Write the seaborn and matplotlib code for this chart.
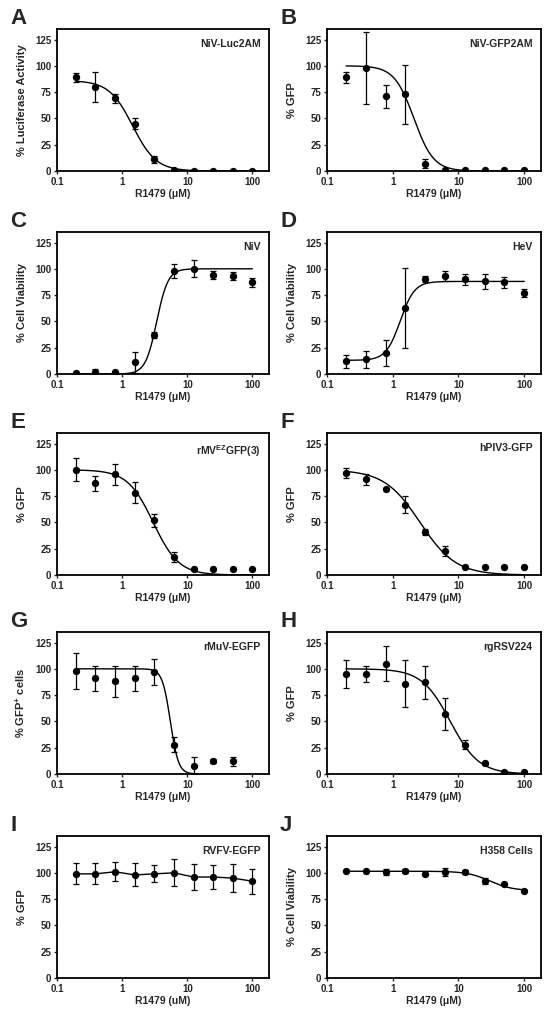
import numpy as np
import pandas as pd
import matplotlib
matplotlib.use('Agg')
import matplotlib.pyplot as plt
import seaborn as sns

# Концентрации R1479 (мкМ)
conc = [0.195, 0.39, 0.78, 1.5625, 3.125, 6.25, 12.5, 25, 50, 100]

# Значения по панелям (среднее и погрешность)
a_y = [89, 80, 69, 45, 11, 1, 0, 0, 0, 0]
a_err = [4, 14, 4, 5, 3, 0.5, 0, 0, 0, 0]
b_y = [89, 98, 71, 73, 7, 1, 1, 1, 1, 1]
b_err = [5, 34, 11, 28, 4, 0, 0, 0, 0, 0]
c_y = [1, 2, 1.5, 11, 37, 98, 100, 94, 93, 87]
c_err = [1, 3, 1, 10, 3, 7, 8, 4, 4, 4]
d_y = [12, 14, 20, 63, 90, 93, 90, 88, 87, 77]
d_err = [6, 8, 12, 38, 3, 5, 5, 7, 5, 4]
e_y = [100, 87, 96, 78, 52, 17, 6, 6, 6, 6]
e_err = [11, 7, 10, 10, 6, 5, 0, 0, 0, 0]
f_y = [97, 91, 82, 67, 41, 23, 8, 8, 8, 8]
f_err = [5, 5, 1, 8, 3, 5, 0, 0, 0, 0]
g_y = [98, 91, 88, 91, 97, 28, 8, 12, 12]
g_err = [17, 12, 15, 12, 12, 7, 8, 2, 4]
h_y = [95, 95, 105, 86, 87, 57, 28, 10, 2, 2]
h_err = [13, 8, 17, 22, 16, 15, 4, 1, 1, 1]
i_y = [99, 99, 101, 98, 99, 100, 96, 96, 95, 92]
i_err = [10, 10, 9, 11, 8, 13, 12, 11, 13, 12]
j_y = [102, 102, 101, 102, 99, 101, 101, 92, 89, 83]
j_err = [0.5, 0.5, 3, 2, 1, 4, 2, 3, 1, 1]

# Параметры 4PL-аппроксимации: низ, верх, EC50, наклон (None - соединить точки)
fits = {
    'A': (0, 86, 1.45, -2.4),
    'B': (0, 100, 2.1, -2.9),
    'C': (0, 100, 3.4, 5.0),
    'D': (13, 88, 1.3, 4.0),
    'E': (0, 100, 3.0, -2.2),
    'F': (0, 100, 2.6, -1.6),
    'G': (0, 100, 5.5, -7.0),
    'H': (0, 100, 7.5, -2.0),
    'I': None,
    'J': (83, 101.5, 30, -2.5),
}

panels = [
    ('A', a_y, a_err, '% Luciferase Activity', 'NiV-Luc2AM', 'R1479 (\u03bcM)'),
    ('B', b_y, b_err, '% GFP', 'NiV-GFP2AM', 'R1479 (\u03bcM)'),
    ('C', c_y, c_err, '% Cell Viability', 'NiV', 'R1479 (\u03bcM)'),
    ('D', d_y, d_err, '% Cell Viability', 'HeV', 'R1479 (\u03bcM)'),
    ('E', e_y, e_err, '% GFP', 'rMV$^{\\mathbf{EZ}}$GFP(3)', 'R1479 (\u03bcM)'),
    ('F', f_y, f_err, '% GFP', 'hPIV3-GFP', 'R1479 (\u03bcM)'),
    ('G', g_y, g_err, '% GFP$^{\\mathbf{+}}$ cells', 'rMuV-EGFP', 'R1479 (\u03bcM)'),
    ('H', h_y, h_err, '% GFP', 'rgRSV224', 'R1479 (\u03bcM)'),
    ('I', i_y, i_err, '% GFP', 'RVFV-EGFP', 'R1479 (uM)'),
    ('J', j_y, j_err, '% Cell Viability', 'H358 Cells', 'R1479 (\u03bcM)'),
]

sns.set_style('ticks')
plt.rcParams['font.family'] = ['Liberation Sans', 'DejaVu Sans']
plt.rcParams['font.weight'] = 'bold'
plt.rcParams['mathtext.fontset'] = 'custom'
plt.rcParams['mathtext.rm'] = 'Liberation Sans:bold'
plt.rcParams['mathtext.bf'] = 'Liberation Sans:bold'
plt.rcParams['mathtext.default'] = 'bf'

W, H = 551, 1016
fig = plt.figure(figsize=(W / 100, H / 100), dpi=100)

col_left = [57, 327]
col_width = [212, 214]
row_top = [29, 232, 433, 632, 836]
ax_h = 142

for k, (letter, y, err, ylabel, name, xlabel) in enumerate(panels):
    row, col = divmod(k, 2)
    left = col_left[col]
    top = row_top[row]
    ax = fig.add_axes([left / W, 1 - (top + ax_h) / H, col_width[col] / W, ax_h / H])

    x = conc[:len(y)]
    df = pd.DataFrame({'x': x, 'y': y, 'err': err})

    fit = fits[letter]
    if fit is None:
        sns.lineplot(data=df, x='x', y='y', color='black', lw=1.0, ax=ax)
    else:
        bottom, topv, ec50, hill = fit
        xs = np.logspace(np.log10(x[0]), np.log10(x[-1]), 300)
        ys = bottom + (topv - bottom) / (1 + (ec50 / xs) ** hill)
        sns.lineplot(x=xs, y=ys, color='black', lw=1.0, ax=ax)

    ax.errorbar(df['x'], df['y'], yerr=df['err'], fmt='none', ecolor='black',
                elinewidth=0.9, capsize=2.5, capthick=0.9, zorder=3)
    sns.scatterplot(data=df, x='x', y='y', color='black', s=28, edgecolor='black',
                    linewidth=0, zorder=4, ax=ax)

    ax.set_xscale('log')
    ax.set_xlim(0.1, 180)
    ax.set_ylim(0, 135)
    ax.set_xticks([0.1, 1, 10, 100])
    ax.set_xticklabels(['0.1', '1', '10', '100'])
    ax.xaxis.set_minor_locator(matplotlib.ticker.NullLocator())
    ax.set_yticks([0, 25, 50, 75, 100, 125])
    ax.tick_params(axis='both', labelsize=7, width=1.0, length=2.5, pad=1.5)

    for s in ax.spines.values():
        s.set_linewidth(1.3)
        s.set_color('black')

    ax.set_xlabel(xlabel, fontsize=7.5, fontweight='bold', labelpad=2)
    ax.set_ylabel(ylabel, fontsize=8, fontweight='bold')
    ax.yaxis.set_label_coords(-0.14, 0.5)

    ax.text(0.96, 0.93, name, transform=ax.transAxes, ha='right', va='top',
            fontsize=7.5, fontweight='bold')

    fig.text((left - 47) / W, 1 - (top - 5) / H, letter, ha='left', va='baseline',
             fontsize=16, fontweight='bold')

fig.savefig('out.png', dpi=100)
